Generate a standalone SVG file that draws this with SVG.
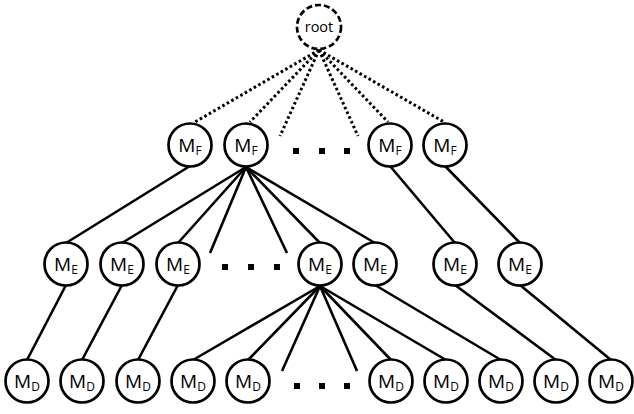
<svg xmlns="http://www.w3.org/2000/svg" width="634" height="414" viewBox="0 0 634 414">
<style>
.n circle{fill:#fff;stroke:#000;stroke-width:2.7}
#root circle{stroke-dasharray:6 3}
.n text{font-family:"Open Sans","Liberation Sans",sans-serif;font-size:19px;fill:#000;text-anchor:middle}
.n tspan{font-size:12px}
#edges line{stroke:#000;stroke-width:2.6;stroke-linecap:butt}
#edges .dot{stroke-width:3;stroke-dasharray:2.6 2.6}
.sq{fill:#000}
</style>
<rect width="634" height="414" fill="#fff"/>
<g id="edges">
<line class="dot" x1="319" y1="50" x2="195" y2="122"/>
<line class="dot" x1="319" y1="50" x2="250" y2="122"/>
<line class="dot" x1="319" y1="50" x2="280" y2="136"/>
<line class="dot" x1="319" y1="50" x2="358" y2="136"/>
<line class="dot" x1="319" y1="50" x2="388" y2="122"/>
<line class="dot" x1="319" y1="50" x2="444" y2="122"/>
<line x1="190" y1="166" x2="66" y2="243"/>
<line x1="246" y1="167" x2="122" y2="243"/>
<line x1="246" y1="167" x2="178" y2="243"/>
<line x1="246" y1="167" x2="210" y2="253"/>
<line x1="246" y1="167" x2="287" y2="253"/>
<line x1="246" y1="167" x2="320" y2="243"/>
<line x1="246" y1="167" x2="375" y2="243"/>
<line x1="390" y1="166" x2="455" y2="243"/>
<line x1="445" y1="166" x2="520" y2="243"/>
<line x1="66" y1="285" x2="27" y2="360"/>
<line x1="122" y1="285" x2="82" y2="360"/>
<line x1="178" y1="285" x2="138" y2="360"/>
<line x1="320" y1="286" x2="193" y2="360"/>
<line x1="320" y1="286" x2="248" y2="360"/>
<line x1="320" y1="286" x2="282" y2="371"/>
<line x1="320" y1="286" x2="357" y2="371"/>
<line x1="320" y1="286" x2="391" y2="360"/>
<line x1="320" y1="286" x2="446" y2="360"/>
<line x1="375" y1="285" x2="501" y2="360"/>
<line x1="455" y1="285" x2="556" y2="360"/>
<line x1="520" y1="285" x2="611" y2="360"/>
</g>
<g id="dots">
<rect class="sq" x="293" y="148" width="6" height="6"/>
<rect class="sq" x="319" y="148" width="6" height="6"/>
<rect class="sq" x="344" y="148" width="6" height="6"/>
<rect class="sq" x="222" y="264" width="6" height="6"/>
<rect class="sq" x="248" y="264" width="6" height="6"/>
<rect class="sq" x="274" y="264" width="6" height="6"/>
<rect class="sq" x="294" y="383" width="6" height="6"/>
<rect class="sq" x="319" y="383" width="6" height="6"/>
<rect class="sq" x="344" y="383" width="6" height="6"/>
</g>
<g id="root" class="n"><circle cx="319" cy="27" r="22"/><text x="319" y="32" style="font-size:14.5px">root</text></g>
<g id="f1" class="n"><circle cx="190" cy="145" r="21.5"/><text x="190" y="151.5">M<tspan dy="3">F</tspan></text></g>
<g id="f2" class="n"><circle cx="246" cy="145" r="21.5"/><text x="246" y="151.5">M<tspan dy="3">F</tspan></text></g>
<g id="f3" class="n"><circle cx="390" cy="145" r="21.5"/><text x="390" y="151.5">M<tspan dy="3">F</tspan></text></g>
<g id="f4" class="n"><circle cx="445" cy="145" r="21.5"/><text x="445" y="151.5">M<tspan dy="3">F</tspan></text></g>
<g id="e1" class="n"><circle cx="66" cy="264" r="21.5"/><text x="66" y="270.5">M<tspan dy="3">E</tspan></text></g>
<g id="e2" class="n"><circle cx="122" cy="264" r="21.5"/><text x="122" y="270.5">M<tspan dy="3">E</tspan></text></g>
<g id="e3" class="n"><circle cx="178" cy="264" r="21.5"/><text x="178" y="270.5">M<tspan dy="3">E</tspan></text></g>
<g id="e4" class="n"><circle cx="320" cy="264" r="21.5"/><text x="320" y="270.5">M<tspan dy="3">E</tspan></text></g>
<g id="e5" class="n"><circle cx="375" cy="264" r="21.5"/><text x="375" y="270.5">M<tspan dy="3">E</tspan></text></g>
<g id="e6" class="n"><circle cx="455" cy="264" r="21.5"/><text x="455" y="270.5">M<tspan dy="3">E</tspan></text></g>
<g id="e7" class="n"><circle cx="520" cy="264" r="21.5"/><text x="520" y="270.5">M<tspan dy="3">E</tspan></text></g>
<g id="d1" class="n"><circle cx="27" cy="381" r="21.5"/><text x="27" y="387.5">M<tspan dy="3">D</tspan></text></g>
<g id="d2" class="n"><circle cx="82" cy="381" r="21.5"/><text x="82" y="387.5">M<tspan dy="3">D</tspan></text></g>
<g id="d3" class="n"><circle cx="138" cy="381" r="21.5"/><text x="138" y="387.5">M<tspan dy="3">D</tspan></text></g>
<g id="d4" class="n"><circle cx="193" cy="381" r="21.5"/><text x="193" y="387.5">M<tspan dy="3">D</tspan></text></g>
<g id="d5" class="n"><circle cx="248" cy="381" r="21.5"/><text x="248" y="387.5">M<tspan dy="3">D</tspan></text></g>
<g id="d6" class="n"><circle cx="391" cy="381" r="21.5"/><text x="391" y="387.5">M<tspan dy="3">D</tspan></text></g>
<g id="d7" class="n"><circle cx="446" cy="381" r="21.5"/><text x="446" y="387.5">M<tspan dy="3">D</tspan></text></g>
<g id="d8" class="n"><circle cx="501" cy="381" r="21.5"/><text x="501" y="387.5">M<tspan dy="3">D</tspan></text></g>
<g id="d9" class="n"><circle cx="556" cy="381" r="21.5"/><text x="556" y="387.5">M<tspan dy="3">D</tspan></text></g>
<g id="d10" class="n"><circle cx="611" cy="381" r="21.5"/><text x="611" y="387.5">M<tspan dy="3">D</tspan></text></g>
</svg>
